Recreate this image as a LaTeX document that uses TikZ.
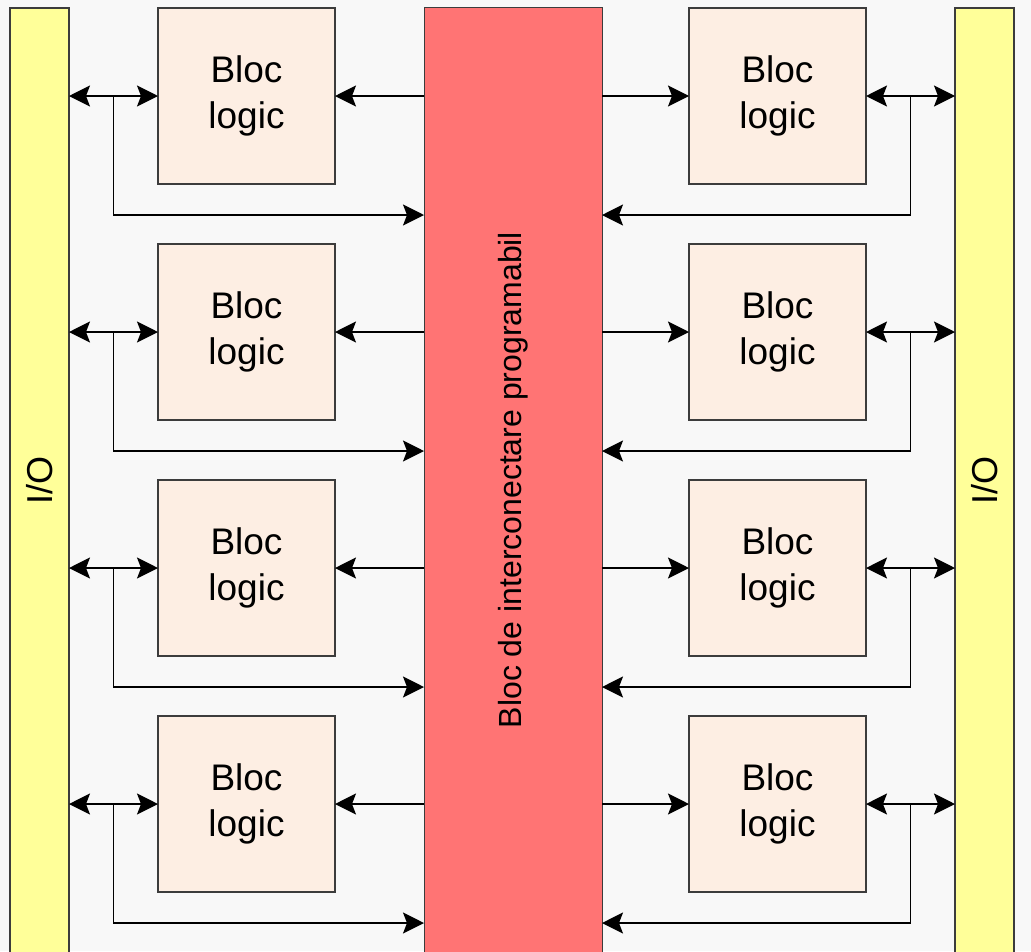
\documentclass[tikz,border=0pt]{standalone}
\usepackage{fontspec}
\setmainfont{Liberation Sans}
\usetikzlibrary{arrows.meta,calc}
\definecolor{bgcol}{HTML}{F8F8F8}
\definecolor{edge}{HTML}{3C3C3C}
\definecolor{blockfill}{HTML}{FDEEE3}
\definecolor{ioyellow}{HTML}{FFFF99}
\definecolor{busred}{HTML}{FF7474}
\begin{document}
\begin{tikzpicture}[x=1pt,y=-1pt,
  every node/.style={inner sep=0pt, outer sep=0pt},
  logicbox/.style={draw=edge, line width=1.5pt, fill=blockfill,
    minimum width=177pt, minimum height=176pt, align=center,
    font=\fontsize{37}{46}\selectfont},
  iobar/.style={draw=edge, line width=1.5pt, fill=ioyellow,
    minimum width=59pt, minimum height=945pt,
    font=\fontsize{36}{40}\selectfont},
  busbar/.style={draw=edge, line width=1pt, fill=busred,
    minimum width=178pt, minimum height=946pt,
    font=\fontsize{32}{36}\selectfont},
  headtip/.tip={Stealth[length=21pt,width=21pt,inset=4pt]},
  link/.style={line width=1.6pt, draw=black, -headtip},
  duplex/.style={line width=1.6pt, draw=black, headtip-headtip}
]
% canvas
\clip (0,0) rectangle (1031,951);
\fill[bgcol] (0,0) rectangle (1031,951);

% I/O bars and the interconnect column
\node[iobar] (ioL) at (39.5,480.5) {\rotatebox{90}{I/O}};
\node[iobar] (ioR) at (984.5,480.5) {\rotatebox{90}{I/O}};
\node[busbar] (bus) at (513,480) {\rotatebox{90}{Bloc de interconectare programabil}};

% logic blocks
\foreach \r/\y in {1/96,2/332,3/568,4/804}{
  \node[logicbox] (L\r) at (246.5,\y) {Bloc\\logic};
  \node[logicbox] (R\r) at (777.5,\y) {Bloc\\logic};
}

% connections of each row
\foreach \r in {1,2,3,4}{
  % left side
  \draw[duplex] (ioL.east |- L\r.west) -- (L\r.west);
  \draw[link] (bus.west |- L\r.east) -- (L\r.east);
  \coordinate (bL\r) at ($(ioL.east |- L\r.west)!0.5!(L\r.west)$);
  \draw[link] (bL\r) |- ($(bus.west |- L\r.south)+(0,31)$);
  % right side
  \draw[duplex] (R\r.east) -- (ioR.west |- R\r.east);
  \draw[link] (bus.east |- R\r.west) -- (R\r.west);
  \coordinate (bR\r) at ($(R\r.east)!0.5!(ioR.west |- R\r.east)$);
  \draw[link] (bR\r) |- ($(bus.east |- R\r.south)+(0,31)$);
}
\end{tikzpicture}
\end{document}
